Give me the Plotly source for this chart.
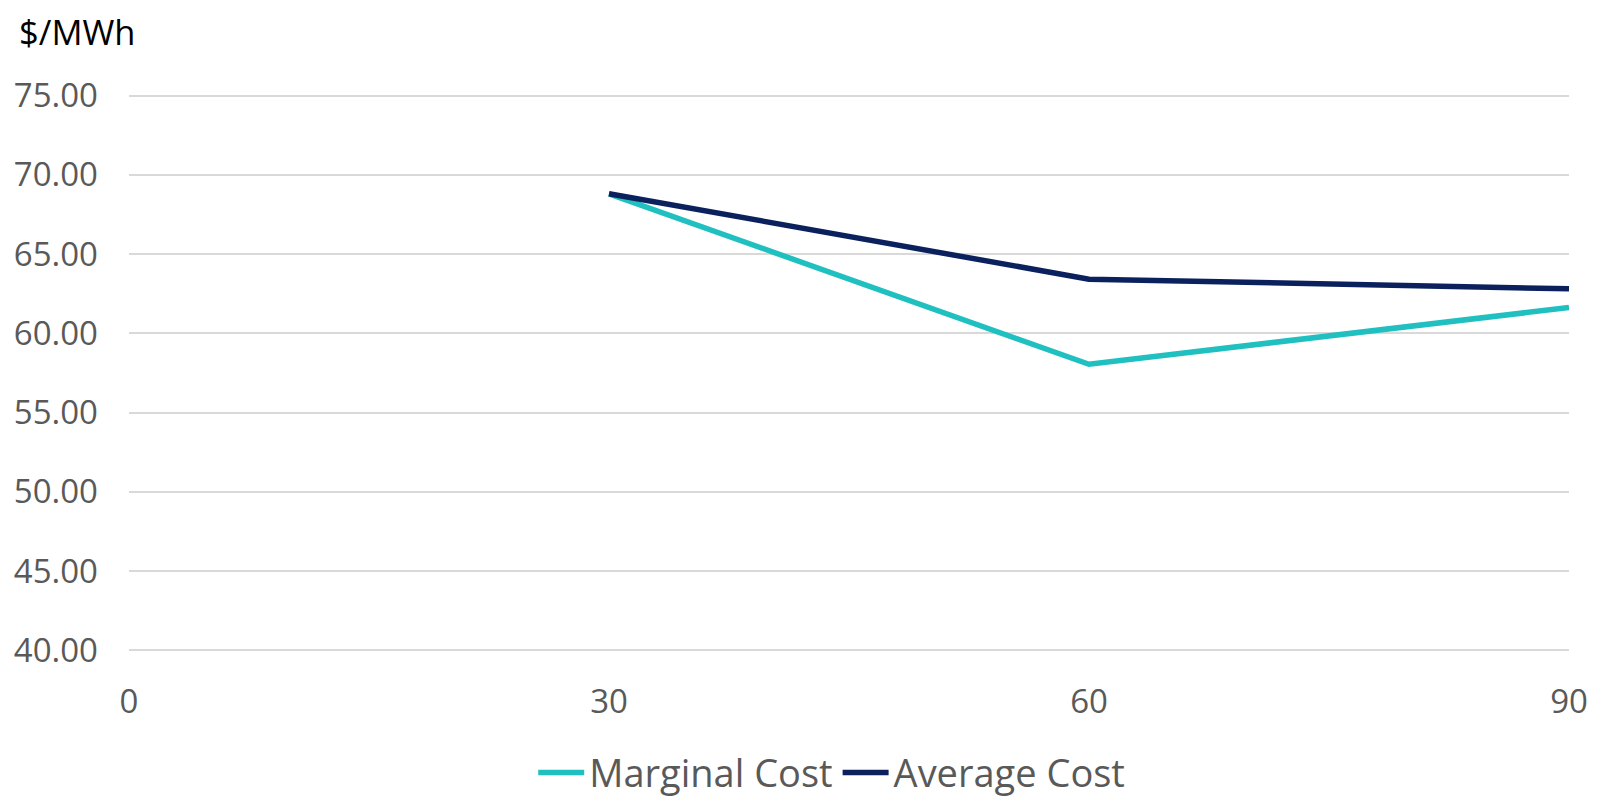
import plotly.graph_objects as go

x_vals = [30, 60, 90]
marginal_cost = [68.8, 58.05, 61.63]
average_cost = [68.81, 63.42, 62.81]
y_ticks = [40, 45, 50, 55, 60, 65, 70, 75]
x_ticks = [0, 30, 60, 90]

fig = go.Figure()
fig.add_trace(go.Scatter(x=x_vals, y=marginal_cost, mode="lines", name="Marginal Cost",
                         line=dict(color="#20C0C0", width=5.5)))
fig.add_trace(go.Scatter(x=x_vals, y=average_cost, mode="lines", name="Average Cost",
                         line=dict(color="#0A215E", width=5.5)))

fig.update_layout(
    width=1601, height=801,
    margin=dict(l=129, r=32, t=94.4, b=149.4, autoexpand=False),
    paper_bgcolor="white", plot_bgcolor="white",
    font=dict(family="Open Sans", color="#595959", size=33),
    showlegend=True,
    legend=dict(orientation="h", x=0.488, xanchor="center", y=-0.273, yanchor="bottom",
                font=dict(size=38, color="#595959"), itemwidth=46, traceorder="normal"),
    annotations=[dict(text="$/MWh", xref="paper", yref="paper", x=-0.078, y=1.158,
                      xanchor="left", yanchor="top", showarrow=False,
                      font=dict(family="Open Sans", size=34.5, color="#000000"))],
)
fig.update_xaxes(range=[0, 90], tickvals=x_ticks, ticktext=[str(v) for v in x_ticks],
                 showgrid=False, zeroline=False, showline=False, ticks="",
                 ticklabelstandoff=27, tickfont=dict(size=33))
fig.update_yaxes(range=[39.9, 75.1], tickvals=y_ticks, ticktext=[f"{v:.2f}" for v in y_ticks],
                 showgrid=True, gridcolor="#D9D9D9", gridwidth=2, zeroline=False,
                 showline=False, ticks="", ticklabelstandoff=30, tickfont=dict(size=33))

fig.write_html("out.html")
